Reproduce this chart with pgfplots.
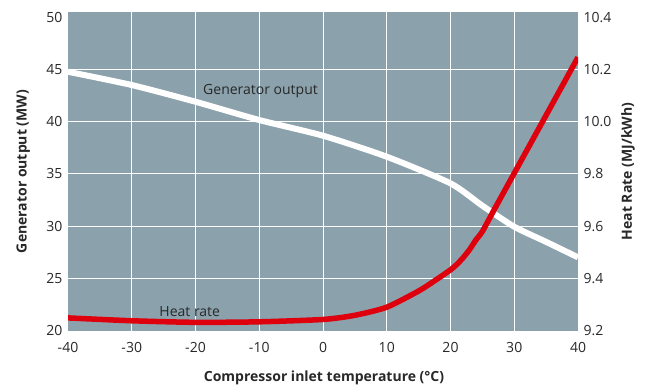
\documentclass[border=0pt]{standalone}
\usepackage{fontspec}
\setmainfont{Open Sans}
\usepackage{pgfplots}
\pgfplotsset{compat=1.18}
\definecolor{bg}{RGB}{139,162,173}
\definecolor{txt}{RGB}{40,40,40}
\definecolor{hr}{RGB}{222,0,12}
\begin{document}
\begin{tikzpicture}[font=\fontsize{14}{16}\selectfont]
\begin{axis}[
  name=main,
  scale only axis, width=510pt, height=318.4pt,
  xmin=-40, xmax=40, ymin=20, ymax=50.47,
  xtick={-40,-30,...,40}, ytick={20,25,...,50},
  minor xtick={-30,-20,...,30}, minor ytick={25,30,...,45},
  grid=minor, minor grid style={white, line width=1pt},
  axis line style={draw=none}, major tick length=0pt, minor tick length=0pt,
  axis background/.style={fill=bg},
  ticklabel style={text=txt},
  xticklabel style={yshift=-8pt},
  yticklabel style={xshift=-2pt},
  /pgf/number format/assume math mode=true,
  xlabel={\bfseries Compressor inlet temperature (°C)},
  ylabel={\bfseries Generator output (MW)},
  xlabel style={at={(axis description cs:0.502,-0.149)}, anchor=center, text=txt},
  ylabel style={at={(axis description cs:-0.088,0.5)}, anchor=center, text=txt},
]
\addplot[white, line width=6pt, smooth, tension=0.4] coordinates {
(-40,44.78) (-30,43.51) (-20,41.91) (-10,40.16) (0,38.66) (10,36.65) (20,34.1) (25,31.96) (30,29.95) (35,28.5) (40,27.02)
};
\node[text=txt, anchor=center] at (axis cs:-9.8,42.94) {Generator output};
\node[text=txt, anchor=center] at (axis cs:-20.9,21.79) {Heat rate};
\end{axis}
\begin{axis}[
  scale only axis, width=510pt, height=318.4pt,
  xmin=-40, xmax=40, ymin=9.2, ymax=10.419,
  axis x line=none, axis y line*=right,
  axis line style={draw=none}, major tick length=0pt,
  ytick={9.2,9.4,...,10.4},
  yticklabel style={xshift=2pt, /pgf/number format/.cd, fixed, fixed zerofill, precision=1},
  ticklabel style={text=txt},
  /pgf/number format/assume math mode=true,
  ylabel={\bfseries Heat Rate (MJ/kWh)},
  ylabel style={at={(axis description cs:1.098,0.5)}, anchor=center, text=txt},
]
\addplot[hr, line width=5.5pt, smooth, tension=0.4] coordinates {
(-40,9.249) (-30,9.238) (-20,9.232) (-10,9.234) (0,9.243) (5,9.259) (10,9.29) (15,9.352) (17.5,9.391) (20,9.433) (21,9.454) (22,9.48) (23,9.511) (24,9.548) (25,9.58) (27,9.67) (30,9.803) (35,10.025) (40,10.247)
};
\end{axis}
\pgfresetboundingbox
\path ([shift={(-68pt,-61.3pt)}]main.south west) rectangle ([shift={(72pt,12.3pt)}]main.north east);
\end{tikzpicture}
\end{document}
